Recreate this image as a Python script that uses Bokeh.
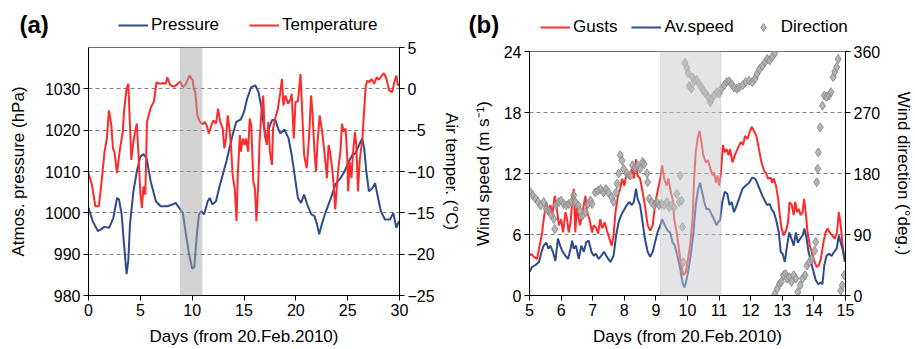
import numpy as np
from bokeh.plotting import figure
from bokeh.models import Range1d, LinearAxis, FixedTicker, BoxAnnotation, Legend, LegendItem, Label
from bokeh.layouts import row, column
from bokeh.embed import file_html
from bokeh.resources import INLINE

FONT = "Liberation Sans"
RED = "#FF2A2A"
BLUE = "#2E4C8C"
DIA_FILL = "#a8a8a8"
DIA_LINE = "#909090"

# ---------------- Panel (a) data ----------------
a_x_ticks = [0, 5, 10, 15, 20, 25, 30]
a_p_ticks = [980, 990, 1000, 1010, 1020, 1030]
a_t_ticks = [-25, -20, -15, -10, -5, 0, 5]
a_band = [8.83, 10.98]

pres_day = [0, 0.4, 0.9, 1.2, 1.5, 2.0, 2.4, 2.75, 2.95, 3.2, 3.4, 3.67, 3.84, 4.0, 4.33, 4.66, 5.0,
            5.3, 5.6, 6.0, 6.5, 6.95, 7.6, 8.1, 8.4, 8.75, 9.1, 9.4, 9.7, 10.0, 10.2, 10.4, 10.65,
            10.9, 11.15, 11.5, 11.7, 11.95, 12.3, 12.6, 12.95, 13.3, 13.6, 13.9, 14.25, 14.7, 15.0,
            15.3, 15.7, 16.1, 16.4, 16.7, 16.95, 17.2, 17.4, 17.7, 18.0, 18.3, 18.5, 18.9, 19.3,
            19.6, 19.97, 20.2, 20.5, 20.8, 21.1, 21.5, 21.8, 22.05, 22.25, 22.5, 22.8, 23.15, 23.5,
            23.8, 24.3, 24.7, 25.1, 25.45, 25.75, 26.1, 26.4, 26.6, 26.8, 27.05, 27.4, 27.65, 27.9,
            28.2, 28.6, 29.1, 29.4, 29.7, 29.95]
pres_val = [1001.2, 998, 995.6, 996, 996.6, 996.4, 998.8, 1003.6, 1003.2, 999.6, 993.2, 985.2,
            988.4, 997.2, 1005.2, 1010, 1013.6, 1014.2, 1013.2, 1007.6, 1002.8, 1001.6, 1001.6,
            1002, 1002.4, 1001.2, 1000, 994.8, 990, 986.5, 986.8, 993.2, 999.6, 1000.4, 999.6,
            1002.8, 1003.6, 1002, 1002.8, 1006, 1009.2, 1012.4, 1015.6, 1018.8, 1022, 1022.6,
            1024.4, 1027.6, 1030.4, 1030.8, 1029.2, 1025.2, 1020.4, 1017.2, 1020.4, 1022.4,
            1022.6, 1020.4, 1019.2, 1020.2, 1018, 1014, 1007.6, 1003.6, 1002.4, 1004.4, 1002,
            999.6, 999.2, 997.2, 994.8, 997.2, 999.6, 1002, 1004.4, 1006.8, 1008.4, 1010, 1012.4,
            1014, 1014.4, 1016.4, 1018, 1015.6, 1010, 1005.2, 1006, 1007.2, 1004, 1000.4, 998.4,
            998.4, 1000, 996.4, 998]

temp_day = [0, 0.33, 0.66, 1.0, 1.2, 1.55, 1.77, 1.97, 2.2, 2.36, 2.5, 2.75, 3.0, 3.3, 3.45, 3.67,
            3.84, 4.0, 4.13, 4.33, 4.5, 4.66, 4.82, 5.0, 5.15, 5.3, 5.48, 5.64, 5.84, 6.03, 6.3,
            6.56, 6.9, 7.2, 7.45, 7.6, 7.87, 8.1, 8.3, 8.6, 8.85, 9.1, 9.4, 9.74, 10.06, 10.16,
            10.3, 10.5, 10.75, 11.0, 11.2, 11.4, 11.6, 11.8, 12.05, 12.3, 12.5, 12.7, 12.95, 13.1,
            13.27, 13.43, 13.6, 13.76, 13.9, 14.1, 14.28, 14.4, 14.6, 14.7, 14.9, 15.06, 15.2,
            15.4, 15.55, 15.7, 15.9, 16.05, 16.2, 16.37, 16.5, 16.7, 16.86, 17.0, 17.2, 17.35,
            17.5, 17.7, 17.8, 18.0, 18.27, 18.5, 18.66, 18.8, 19.0, 19.25, 19.5, 19.6, 19.8,
            19.97, 20.2, 20.45, 20.6, 20.8, 21.05, 21.27, 21.47, 21.6, 21.8, 21.95, 22.1, 22.3,
            22.45, 22.65, 22.85, 23.0, 23.16, 23.3, 23.5, 23.65, 23.8, 23.97, 24.1, 24.3, 24.46,
            24.6, 24.8, 24.95, 25.05, 25.2, 25.37, 25.5, 25.7, 25.83, 26.0, 26.15, 26.3, 26.4,
            26.6, 26.75, 26.9, 27.1, 27.3, 27.55, 27.8, 28.0, 28.3, 28.5, 28.75, 29.0, 29.3, 29.5,
            29.7, 29.85, 30.0]
temp_val = [-10.2, -11.6, -14.2, -14.2, -12, -7.6, -6, -2.6, -4.4, -7.2, -7.6, -10.2, -7.6, -5.2,
            -2.4, 0, 0.6, -4.4, -8.6, -6.4, -5.2, -4.2, -8, -12.6, -14.4, -11.8, -12.8, -4, -3,
            -2.2, -1.6, 0.8, 0.6, 0.7, 0.6, 1.4, 0.5, 0.3, 0.3, 0.6, 0.9, 0.2, 0.6, 1.6, 1.0, 0,
            -0.4, -3.2, -4, -4.3, -4.0, -4.4, -5.4, -4.6, -3.8, -4.2, -2.4, -4, -4.8, -7.2, -6,
            -3.2, -4.8, -7.2, -10.4, -12, -16, -10.4, -5.6, -7.6, -6, -6.8, -6, -7.6, -3.6, -4.4,
            -11.2, -12, -16, -11.6, -6.4, -2.4, -0.8, -5.6, -6.8, -4, -7.6, -9.2, -4.8, -3.6,
            -2.4, -0.4, 1.2, -2.0, -0.8, -1.8, -1.2, -0.6, -6, -1.6, -1.5, 1.8, -2.4, -8, -9.6,
            -6, -0.8, -2.8, -7.6, -10, -6.4, -3.2, -4.4, -6.4, -8.8, -10.8, -6.8, -7.6, -9.6,
            -11.6, -14.6, -11.6, -9.6, -7.6, -4.2, -5.2, -4.8, -8, -12.4, -8.8, -10.8, -8, -5.2,
            -6.8, -12.4, -8.8, -7.2, -6.4, -2.4, 0.4, 1, 0.8, 1.2, 0.6, 1.4, 1.1, 1.6, 1.9, 1.2,
            -0.2, -0.4, 0.8, 1.6, 0.4, 0.6]

# ---------------- Panel (b) data ----------------
b_x_ticks = [5, 6, 7, 8, 9, 10, 11, 12, 13, 14, 15]
b_s_ticks = [0, 6, 12, 18, 24]
b_d_ticks = [0, 90, 180, 270, 360]
b_band = [9.15, 11.05]

gust_day = [5.0, 5.06, 5.14, 5.24, 5.32, 5.4, 5.45, 5.53, 5.6, 5.66, 5.72, 5.8, 5.87, 5.93, 6.0,
            6.06, 6.14, 6.19, 6.24, 6.3, 6.35, 6.4, 6.45, 6.5, 6.56, 6.6, 6.68, 6.77, 6.82, 6.9,
            6.98, 7.03, 7.1, 7.17, 7.24, 7.3, 7.38, 7.45, 7.53, 7.6, 7.66, 7.72, 7.8, 7.87, 7.93,
            8.0, 8.08, 8.16, 8.24, 8.3, 8.37, 8.42, 8.5, 8.58, 8.65, 8.74, 8.82, 8.9, 8.97, 9.05,
            9.14, 9.2, 9.26, 9.34, 9.4, 9.47, 9.53, 9.58, 9.66, 9.74, 9.8, 9.87, 9.95, 10.0, 10.08,
            10.16, 10.21, 10.26, 10.32, 10.38, 10.44, 10.5, 10.58, 10.65, 10.72, 10.8, 10.84, 10.9,
            10.95, 11.0, 11.05, 11.12, 11.18, 11.24, 11.3, 11.35, 11.42, 11.5, 11.58, 11.69,
            11.76, 11.82, 11.9, 11.97, 12.03, 12.1, 12.18, 12.26, 12.34, 12.42, 12.49, 12.55,
            12.63, 12.68, 12.73, 12.8, 12.87, 12.92, 12.97, 13.04, 13.12, 13.18, 13.23, 13.3,
            13.36, 13.41, 13.47, 13.52, 13.58, 13.64, 13.69, 13.75, 13.8, 13.87, 13.93, 14.02,
            14.09, 14.16, 14.22, 14.3, 14.37, 14.43, 14.5, 14.58, 14.66, 14.73, 14.79, 14.85,
            14.9, 14.96]
gust_val = [3.9, 4.1, 3.8, 3.6, 4.9, 6.2, 7.5, 9.2, 7.9, 8.9, 7.9, 9.8, 8.4, 6.9, 7.5, 6.2, 8.2,
            7.5, 6.2, 7.2, 9.2, 10.5, 6.2, 8.9, 7.5, 6.9, 8.2, 9.8, 8.2, 7.5, 6.2, 6.9, 6.7, 6.1,
            7.5, 6.6, 7.2, 6.4, 5.6, 4.9, 5.9, 8.2, 9.8, 10.5, 11.5, 10.8, 12.1, 11.5, 12.5, 11.5,
            13.4, 11.8, 11.5, 10.2, 8.9, 6.9, 6.4, 6.9, 8.9, 10.2, 11.5, 12.8, 11.5, 10.8, 11.5,
            10.2, 9.5, 7.5, 6.2, 4.3, 3.0, 2.0, 2.3, 3.3, 4.9, 7.5, 11.5, 14.1, 15.4, 16.2, 15.1,
            13.8, 13.1, 13.3, 12.5, 11.8, 12.1, 11.1, 11.8, 10.8, 11.8, 14.8, 14.1, 14.4, 13.8,
            14.4, 13.1, 13.8, 14.4, 15.1, 14.8, 15.7, 15.4, 16.1, 16.6, 16.2, 15.7, 14.4, 13.1,
            12.3, 12.0, 11.5, 11.6, 11.1, 11.5, 10.8, 9.5, 7.9, 6.7, 5.9, 6.4, 7.2, 9.2, 8.9, 7.9,
            9.2, 8.2, 8.5, 7.9, 8.2, 9.5, 7.9, 6.2, 4.9, 4.3, 3.3, 2.8, 3.0, 3.6, 5.2, 6.2, 6.6,
            6.2, 5.9, 5.6, 6.2, 8.2, 6.9, 5.2, 3.6]

avs_day = [5.0, 5.08, 5.19, 5.3, 5.38, 5.45, 5.53, 5.6, 5.66, 5.74, 5.82, 5.9, 5.98, 6.05, 6.14,
           6.22, 6.3, 6.35, 6.4, 6.47, 6.56, 6.64, 6.72, 6.79, 6.87, 6.96, 7.03, 7.1, 7.19, 7.27,
           7.36, 7.45, 7.56, 7.66, 7.74, 7.82, 7.9, 7.99, 8.08, 8.16, 8.24, 8.3, 8.37, 8.42, 8.5,
           8.58, 8.65, 8.74, 8.82, 8.9, 8.97, 9.05, 9.14, 9.2, 9.28, 9.37, 9.45, 9.53, 9.6, 9.68,
           9.77, 9.84, 9.9, 9.95, 10.02, 10.1, 10.19, 10.26, 10.34, 10.4, 10.46, 10.53, 10.6,
           10.68, 10.76, 10.84, 10.92, 10.97, 11.03, 11.1, 11.18, 11.26, 11.33, 11.4, 11.47,
           11.56, 11.63, 11.74, 11.84, 11.95, 12.05, 12.14, 12.2, 12.28, 12.37, 12.45, 12.52,
           12.6, 12.66, 12.73, 12.8, 12.89, 12.95, 13.01, 13.08, 13.15, 13.22, 13.29, 13.36,
           13.43, 13.49, 13.57, 13.64, 13.7, 13.77, 13.83, 13.91, 13.99, 14.06, 14.14, 14.23,
           14.27, 14.33, 14.4, 14.48, 14.56, 14.64, 14.72, 14.79, 14.85, 14.93, 14.98]
avs_val = [2.3, 2.8, 3.0, 3.3, 4.3, 4.9, 5.2, 4.6, 4.9, 4.3, 3.4, 5.6, 4.8, 4.3, 3.9, 3.6, 4.6,
           5.4, 4.6, 4.9, 3.6, 4.9, 4.3, 5.2, 5.4, 4.3, 3.9, 4.1, 3.6, 3.9, 4.3, 3.8, 3.3, 3.9,
           5.9, 7.2, 7.9, 8.4, 8.9, 9.2, 8.9, 9.2, 10.5, 9.5, 8.9, 7.2, 5.6, 4.3, 3.8, 4.3, 5.2,
           6.2, 6.9, 7.5, 6.9, 6.4, 6.2, 5.2, 4.9, 3.9, 2.6, 1.3, 0.8, 1.3, 2.3, 3.9, 6.2, 8.9,
           10.5, 11.1, 10.2, 9.2, 8.5, 8.5, 8.0, 7.5, 6.9, 7.2, 7.4, 9.2, 10.2, 10.0, 8.9, 9.2,
           8.2, 8.9, 9.5, 10.5, 10.8, 11.1, 11.6, 11.5, 11.1, 10.5, 9.8, 9.3, 8.9, 9.0, 8.5, 8.2,
           7.5, 6.2, 4.3, 4.1, 3.3, 4.9, 6.2, 5.6, 4.9, 6.2, 5.2, 5.6, 5.9, 6.6, 5.6, 4.3, 3.3,
           2.3, 1.5, 1.1, 1.3, 1.1, 3.0, 3.9, 4.1, 3.9, 4.3, 4.6, 5.9, 5.2, 4.3, 3.3]

dir_day = [5.03, 5.1, 5.19, 5.27, 5.35, 5.45, 5.53, 5.6, 5.7, 5.77, 5.8, 5.84, 5.93, 6.0, 6.08,
           6.16, 6.24, 6.33, 6.4, 6.45, 6.54, 6.6, 6.68, 6.77, 6.85, 6.93, 6.98, 7.08, 7.17, 7.25,
           7.34, 7.42, 7.5, 7.6, 7.66, 7.74, 7.77, 7.82, 7.87, 7.93, 7.98, 8.08, 8.19, 8.26, 8.34,
           8.42, 8.5, 8.58, 8.63, 8.72, 8.74, 8.79, 8.86, 8.95, 9.03, 9.1, 9.18, 9.26, 9.35, 9.42,
           9.5, 9.58, 9.66, 9.74, 9.77, 9.81, 9.84, 9.87, 9.92, 9.98, 10.02, 10.06, 10.12, 10.16,
           10.21, 10.29, 10.37, 10.44, 10.5, 10.58, 10.65, 10.72, 10.76, 10.84, 10.93, 11.0,
           11.07, 11.16, 11.24, 11.32, 11.39, 11.47, 11.56, 11.63, 11.74, 11.84, 11.95, 12.05,
           12.14, 12.2, 12.28, 12.37, 12.45, 12.52, 12.6, 12.68, 12.76, 12.76, 12.84, 12.91,
           12.97, 13.04, 13.1, 13.15, 13.22, 13.29, 13.36, 13.43, 13.49, 13.57, 13.64, 13.72,
           13.78, 13.85, 13.93, 14.02, 14.06, 14.09, 14.12, 14.14, 14.2, 14.27, 14.33, 14.4,
           14.48, 14.54, 14.61, 14.66, 14.72, 14.77, 14.85, 14.9, 14.96]
dir_val = [152, 148, 143, 138, 133, 138, 128, 125, 118, 113, 98, 133, 138, 140, 135, 133, 135,
           138, 148, 138, 133, 125, 118, 123, 135, 140, 135, 152, 155, 157, 152, 157, 152, 145,
           138, 152, 165, 180, 207, 199, 187, 180, 177, 192, 189, 192, 187, 197, 194, 180, 167,
           143, 138, 133, 138, 133, 135, 133, 138, 130, 133, 130, 150, 138, 177, 140, 101, 49,
           343, 336, 328, 309, 305, 322, 316, 318, 312, 307, 302, 298, 293, 285, 290, 295, 300,
           298, 305, 310, 315, 316, 312, 307, 305, 307, 310, 315, 317, 315, 320, 327, 334, 339,
           344, 349, 347, 352, 357, 2, 10, 17, 20, 30, 32, 25, 27, 20, 30, 25, 5, 15, 25, 30, 44,
           49, 54, 66, 79, 167, 187, 211, 248, 280, 295, 293, 295, 300, 322, 330, 337, 349, 7,
           15, 30]

HEAD_H = 38
NAN = np.array([np.nan])


def style_axis(ax, label_standoff):
    ax.axis_line_color = "black"
    ax.axis_line_width = 1
    ax.major_tick_line_color = "black"
    ax.major_tick_out = 5
    ax.major_tick_in = 0
    ax.minor_tick_line_color = None
    ax.major_label_text_font = FONT
    ax.major_label_text_font_size = "16px"
    ax.major_label_text_color = "black"
    ax.major_label_standoff = 3
    ax.axis_label_text_font = FONT
    ax.axis_label_text_font_size = "17px"
    ax.axis_label_text_font_style = "normal"
    ax.axis_label_text_color = "black"
    ax.axis_label_standoff = label_standoff


def base_fig(xr, yr, extra, mb_left, fw, mb_right, mb_top, fh):
    p = figure(frame_width=fw, frame_height=fh, min_border_left=mb_left,
               min_border_right=mb_right, min_border_top=mb_top, min_border_bottom=53,
               x_range=xr, y_range=yr, output_backend="svg", toolbar_location=None)
    p.frame_align = False
    p.extra_y_ranges = extra
    p.background_fill_color = "white"
    p.border_fill_color = "white"
    p.outline_line_color = "#6f6f6f"
    p.outline_line_width = 1
    p.xgrid.visible = False
    p.ygrid.grid_line_color = "#7f7f7f"
    p.ygrid.grid_line_dash = "4 3"
    p.ygrid.grid_line_width = 1
    return p


def header_fig(width):
    h = figure(width=width, height=HEAD_H, x_range=Range1d(0, 1), y_range=Range1d(0, 1),
               x_axis_location=None, y_axis_location=None, min_border=0,
               output_backend="svg", toolbar_location=None)
    h.frame_align = False
    h.outline_line_color = None
    h.grid.visible = False
    h.background_fill_color = "white"
    h.border_fill_color = "white"
    return h


def make_legend(items, loc, spacing):
    lg = Legend(items=items, orientation="horizontal", location=loc)
    lg.border_line_color = None
    lg.background_fill_alpha = 0
    lg.padding = 0
    lg.margin = 0
    lg.spacing = spacing
    lg.glyph_width = 30
    lg.glyph_height = 20
    lg.label_standoff = 3
    lg.label_height = 20
    lg.label_text_font = FONT
    lg.label_text_font_size = "17px"
    lg.label_text_color = "black"
    return lg


def panel_label(text, x, y):
    return Label(x=x, y=y, x_units="screen", y_units="screen", text=text,
                 text_font=FONT, text_font_size="24px", text_font_style="bold",
                 text_baseline="middle", text_color="black")


# ---------------- Panel (a) ----------------
W1 = 88 + 311 + 64
p1 = base_fig(Range1d(0, 30), Range1d(980, 1040), {"t": Range1d(-25, 5)}, 88, 311, 64, 9, 248)
p1.xaxis.ticker = FixedTicker(ticks=a_x_ticks)
p1.yaxis.ticker = FixedTicker(ticks=a_p_ticks)
p1.xaxis.axis_label = "Days (from 20.Feb.2010)"
p1.yaxis.axis_label = "Atmos. pressure (hPa)"
style_axis(p1.xaxis[0], 8)
style_axis(p1.yaxis[0], 14)
ax_t = LinearAxis(y_range_name="t", ticker=FixedTicker(ticks=a_t_ticks), axis_label="Air temper. (°C)")
style_axis(ax_t, 4)
p1.add_layout(ax_t, "right")

p1.line(pres_day, pres_val, line_color=BLUE, line_width=2)
p1.line(temp_day, temp_val, line_color=RED, line_width=2, y_range_name="t")
p1.add_layout(BoxAnnotation(left=a_band[0], right=a_band[1], fill_color="#a6a6a6", fill_alpha=0.5,
                            line_color=None))

h1 = header_fig(W1)
k_p = h1.line(NAN, NAN, line_color=BLUE, line_width=2)
k_t = h1.line(NAN, NAN, line_color=RED, line_width=2)
h1.add_layout(make_legend([LegendItem(label="Pressure", renderers=[k_p]),
                           LegendItem(label="Temperature", renderers=[k_t])], (118, 3), 30))
h1.add_layout(panel_label("(a)", 19, 14))

# ---------------- Panel (b) ----------------
W2 = 66 + 316 + 69
p2 = base_fig(Range1d(5, 15), Range1d(0, 24), {"d": Range1d(0, 360)}, 66, 316, 69, 13, 244)
p2.xaxis.ticker = FixedTicker(ticks=b_x_ticks)
p2.yaxis.ticker = FixedTicker(ticks=b_s_ticks)
p2.xaxis.axis_label = "Days (from 20.Feb.2010)"
p2.yaxis.axis_label = "Wind speed (m s⁻¹)"
style_axis(p2.xaxis[0], 8)
style_axis(p2.yaxis[0], 8)
ax_d = LinearAxis(y_range_name="d", ticker=FixedTicker(ticks=b_d_ticks), axis_label="Wind direction (°deg.)")
style_axis(ax_d, 11)
p2.add_layout(ax_d, "right")

p2.line(gust_day, gust_val, line_color=RED, line_width=2)
p2.line(avs_day, avs_val, line_color=BLUE, line_width=2)
p2.scatter(dir_day, dir_val, marker="diamond", size=9, fill_color=DIA_FILL,
           line_color=DIA_LINE, fill_alpha=0.85, y_range_name="d")
p2.add_layout(BoxAnnotation(left=b_band[0], right=b_band[1], fill_color="#c9c9ce", fill_alpha=0.5,
                            line_color="#a0a0a0", line_width=1))

h2 = header_fig(W2)
k_g = h2.line(NAN, NAN, line_color=RED, line_width=2)
k_a = h2.line(NAN, NAN, line_color=BLUE, line_width=2)
k_d = h2.scatter(NAN, NAN, marker="diamond", size=9, fill_color=DIA_FILL, line_color=DIA_LINE,
                 fill_alpha=0.85)
h2.add_layout(make_legend([LegendItem(label="Gusts", renderers=[k_g]),
                           LegendItem(label="Av.speed", renderers=[k_a]),
                           LegendItem(label="Direction", renderers=[k_d])], (77, 1), 14))
h2.add_layout(panel_label("(b)", 5, 14))

layout = row(column(h1, p1), column(h2, p2))
open("out.html", "w").write(file_html(layout, INLINE))
